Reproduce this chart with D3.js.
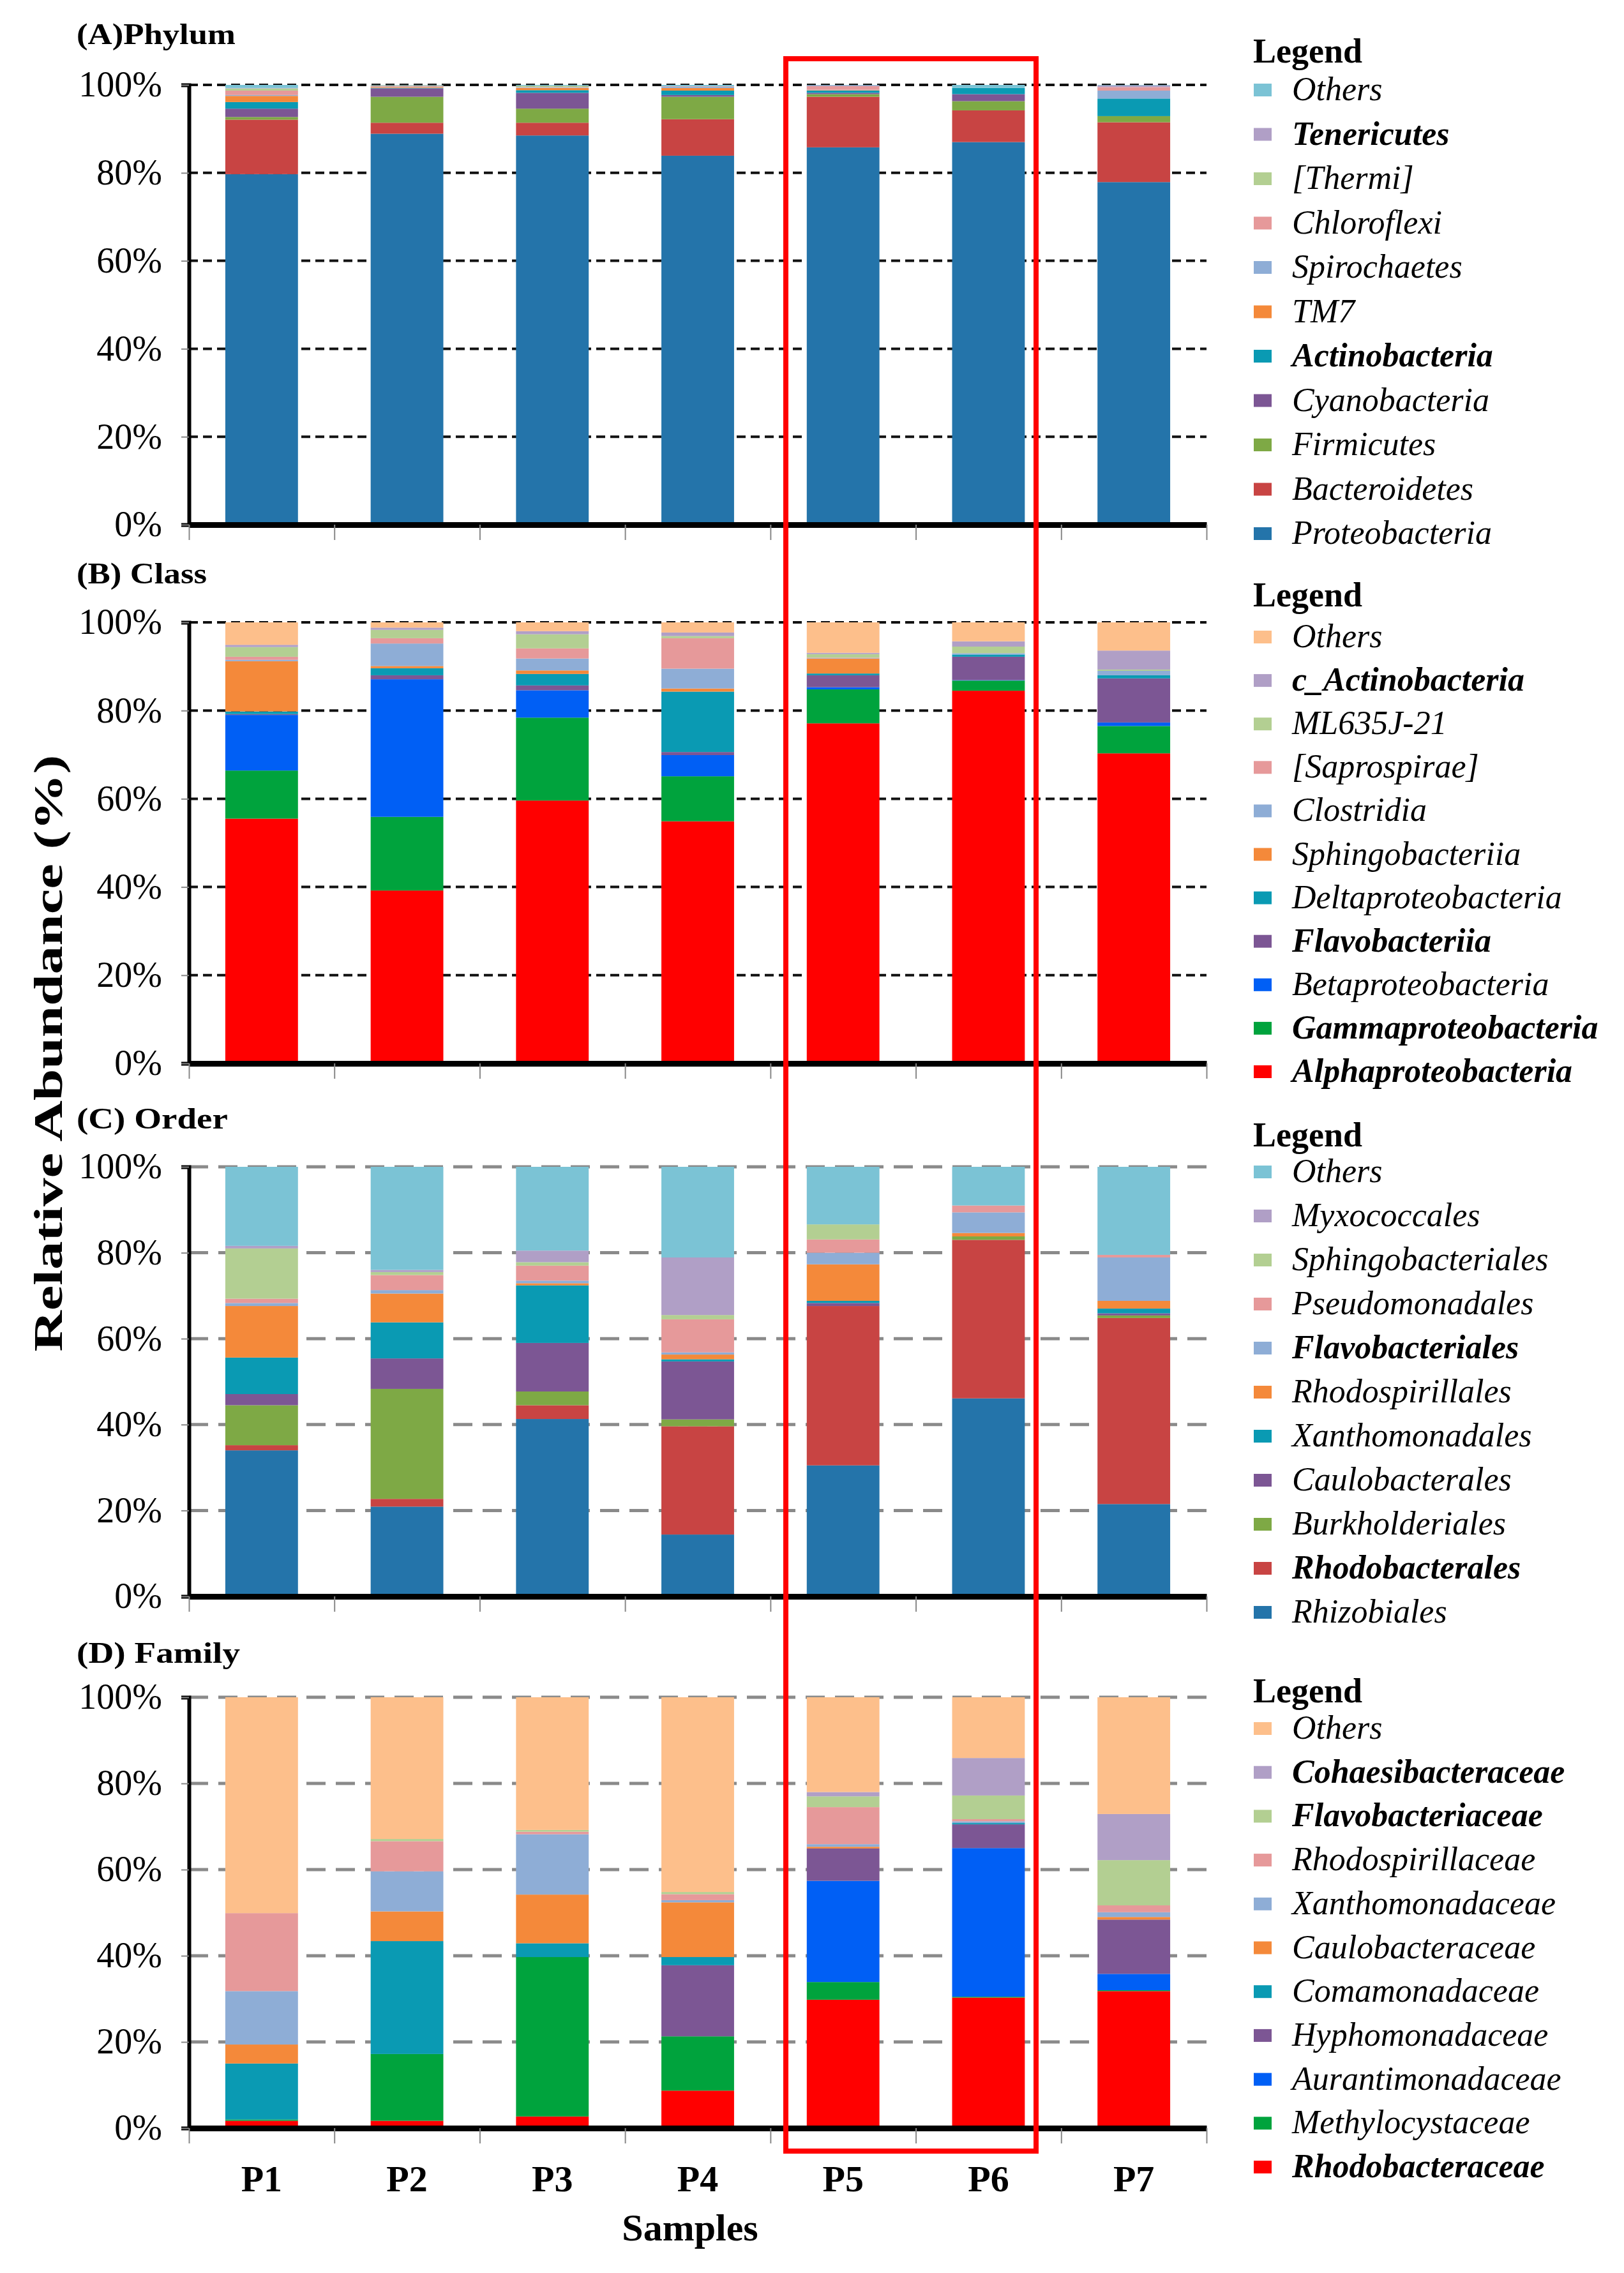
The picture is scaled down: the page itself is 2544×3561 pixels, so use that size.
<!DOCTYPE html>
<html>
<head>
<meta charset="utf-8">
<script src="https://cdn.jsdelivr.net/npm/d3@7"></script>
<style>
  body { margin: 0; background: #fff; }
  svg { display: block; }
  text { font-family: "Liberation Serif", "Times New Roman", serif; }
</style>
</head>
<body>
<svg id="fig"></svg>
<script>
// ---- data (stack order bottom -> top, one row per sample) ----
var samples = ["P1", "P2", "P3", "P4", "P5", "P6", "P7"];
var tickValues = [0, 20, 40, 60, 80, 100];

var phylumTaxa = ["Proteobacteria", "Bacteroidetes", "Firmicutes", "Cyanobacteria", "Actinobacteria",
    "TM7", "Spirochaetes", "Chloroflexi", "[Thermi]", "Tenericutes", "Others"];
var phylumColors = ["#2474aa", "#c84443", "#7ea945", "#7c5694", "#0a9ab3",
    "#f4893a", "#8eadd6", "#e6999a", "#b3cf92", "#b09fc6", "#7bc3d5"];
var phylumBold = ["Tenericutes", "Actinobacteria"];
var phylumValues = [
    [79.7, 12.4, 0.6, 1.9, 1.5, 1.4, 0.2, 1.0, 0.5, 0.1, 0.7],
    [88.9, 2.5, 5.9, 1.9, 0.1, 0.2, 0.1, 0.2, 0.1, 0.0, 0.1],
    [88.5, 2.9, 3.2, 3.6, 0.6, 0.5, 0.1, 0.1, 0.3, 0.0, 0.2],
    [83.9, 8.3, 5.1, 0.4, 1.0, 0.6, 0.3, 0.1, 0.0, 0.0, 0.3],
    [85.8, 11.5, 0.6, 0.3, 0.5, 0.1, 0.1, 0.8, 0.0, 0.2, 0.1],
    [87.0, 7.2, 2.1, 1.6, 1.4, 0.0, 0.0, 0.0, 0.0, 0.0, 0.7],
    [77.9, 13.6, 1.4, 0.0, 4.0, 0.0, 1.8, 0.8, 0.0, 0.4, 0.1]
];

var classTaxa = ["Alphaproteobacteria", "Gammaproteobacteria", "Betaproteobacteria", "Flavobacteriia",
    "Deltaproteobacteria", "Sphingobacteriia", "Clostridia", "[Saprospirae]", "ML635J-21", "c_Actinobacteria", "Others"];
var classColors = ["#ff0000", "#00a33d", "#005ff5", "#7c5694", "#0a9ab3",
    "#f4893a", "#8eadd6", "#e6999a", "#b3cf92", "#b09fc6", "#fdbf8b"];
var classBold = ["Alphaproteobacteria", "Gammaproteobacteria", "Flavobacteriia", "c_Actinobacteria"];
var classValues = [
    [55.5, 10.9, 12.6, 0.2, 0.6, 11.4, 0.3, 0.7, 2.2, 0.5, 5.1],
    [39.2, 16.7, 31.2, 0.9, 1.6, 0.5, 5.1, 1.2, 1.9, 0.5, 1.2],
    [59.6, 18.8, 6.2, 1.1, 2.6, 0.8, 2.7, 2.3, 3.2, 0.7, 2.0],
    [54.9, 10.2, 4.8, 0.7, 13.7, 0.7, 4.5, 6.9, 0.5, 0.8, 2.3],
    [77.1, 7.7, 0.5, 2.7, 0.4, 3.4, 0.1, 0.1, 0.8, 0.3, 6.9],
    [84.5, 2.3, 0.1, 5.3, 0.5, 0.0, 0.3, 0.0, 1.5, 1.2, 4.3],
    [70.3, 6.2, 0.8, 10.0, 0.7, 0.0, 1.0, 0.0, 0.3, 4.3, 6.4]
];

var orderTaxa = ["Rhizobiales", "Rhodobacterales", "Burkholderiales", "Caulobacterales", "Xanthomonadales",
    "Rhodospirillales", "Flavobacteriales", "Pseudomonadales", "Sphingobacteriales", "Myxococcales", "Others"];
var orderColors = ["#2474aa", "#c84443", "#7ea945", "#7c5694", "#0a9ab3",
    "#f4893a", "#8eadd6", "#e6999a", "#b3cf92", "#b09fc6", "#7bc3d5"];
var orderBold = ["Rhodobacterales", "Flavobacteriales"];
var orderValues = [
    [34.0, 1.2, 9.3, 2.6, 8.5, 12.0, 0.7, 1.0, 11.7, 0.6, 18.4],
    [20.9, 1.8, 25.6, 7.1, 8.4, 6.7, 0.8, 3.5, 0.7, 0.5, 24.0],
    [41.3, 3.2, 3.2, 11.3, 13.4, 0.5, 0.6, 3.5, 0.8, 2.7, 19.5],
    [14.4, 25.2, 1.6, 13.5, 0.5, 1.1, 0.5, 7.7, 1.0, 13.4, 21.1],
    [30.5, 37.1, 0.0, 0.7, 0.5, 8.5, 2.7, 3.1, 3.5, 0.0, 13.4],
    [46.1, 36.9, 0.8, 0.0, 0.0, 0.8, 4.8, 1.6, 0.0, 0.0, 9.0],
    [21.5, 43.3, 0.6, 0.5, 1.1, 1.8, 10.1, 0.6, 0.0, 0.0, 20.5]
];

var familyTaxa = ["Rhodobacteraceae", "Methylocystaceae", "Aurantimonadaceae", "Hyphomonadaceae", "Comamonadaceae",
    "Caulobacteraceae", "Xanthomonadaceae", "Rhodospirillaceae", "Flavobacteriaceae", "Cohaesibacteraceae", "Others"];
var familyColors = ["#ff0000", "#00a33d", "#005ff5", "#7c5694", "#0a9ab3",
    "#f4893a", "#8eadd6", "#e6999a", "#b3cf92", "#b09fc6", "#fdbf8b"];
var familyBold = ["Rhodobacteraceae", "Flavobacteriaceae", "Cohaesibacteraceae"];
var familyValues = [
    [1.7, 0.3, 0.0, 0.0, 13.0, 4.4, 12.4, 18.1, 0.0, 0.0, 50.1],
    [1.7, 15.5, 0.0, 0.0, 26.2, 6.9, 9.3, 7.0, 0.5, 0.0, 32.9],
    [2.7, 37.0, 0.0, 0.0, 3.2, 11.3, 14.0, 0.6, 0.4, 0.0, 30.8],
    [8.7, 12.6, 0.0, 16.5, 1.9, 12.7, 0.5, 1.4, 0.5, 0.0, 45.2],
    [29.8, 4.1, 23.5, 7.5, 0.0, 0.4, 0.6, 8.6, 2.5, 1.0, 22.0],
    [30.3, 0.2, 34.5, 5.5, 0.3, 0.0, 0.4, 0.5, 5.5, 8.7, 14.1],
    [31.8, 0.2, 3.8, 12.6, 0.0, 0.6, 1.1, 1.6, 10.5, 10.7, 27.1]
];

// ---- layout ----
var W = 2544, H = 3561;
var xLeft = 296, xRight = 1890;

var panels = [
    {title: "(A)Phylum", titleY: 69, titleLen: 249, taxa: phylumTaxa, colors: phylumColors, bold: phylumBold,
     values: phylumValues, y0: 822, y100: 133, grid: "black", legendTitleY: 98, legendY: 141, legendStep: 69.5},
    {title: "(B) Class", titleY: 914, titleLen: 204, taxa: classTaxa, colors: classColors, bold: classBold,
     values: classValues, y0: 1666, y100: 975, grid: "black", legendTitleY: 950, legendY: 998, legendStep: 68.1},
    {title: "(C) Order", titleY: 1768, titleLen: 237, taxa: orderTaxa, colors: orderColors, bold: orderBold,
     values: orderValues, y0: 2501, y100: 1828, grid: "gray", legendTitleY: 1796, legendY: 1836, legendStep: 69},
    {title: "(D) Family", titleY: 2605, titleLen: 256, taxa: familyTaxa, colors: familyColors, bold: familyBold,
     values: familyValues, y0: 3334, y100: 2659, grid: "gray", legendTitleY: 2667, legendY: 2708, legendStep: 68.7}
];

var svg = d3.select("#fig").attr("width", W).attr("height", H);
svg.append("rect").attr("width", W).attr("height", H).attr("fill", "#fff");

var x = d3.scaleBand().domain(samples).range([xLeft, xRight]).paddingInner(0.5).paddingOuter(0.25);
var xEdge = d3.scaleLinear().domain([0, samples.length]).range([xLeft, xRight]);

function drawPanel(p, idx) {
    var y = d3.scaleLinear().domain([0, 100]).range([p.y0, p.y100]);
    var g = svg.append("g").attr("class", "panel");

    // title
    g.append("text")
        .attr("x", 120).attr("y", p.titleY)
        .attr("font-size", 46).attr("font-weight", "bold")
        .attr("textLength", p.titleLen).attr("lengthAdjust", "spacingAndGlyphs")
        .text(p.title);

    // grid lines
    g.selectAll(".grid")
        .data(tickValues.slice(1))
        .enter()
        .append("line")
        .attr("class", "grid")
        .attr("x1", xLeft).attr("x2", xRight)
        .attr("y1", function (d) { return y(d); })
        .attr("y2", function (d) { return y(d); })
        .attr("stroke", p.grid == "black" ? "#111" : "#8a8a8a")
        .attr("stroke-width", p.grid == "black" ? 4 : 5)
        .attr("stroke-dasharray", p.grid == "black" ? "14,8" : "30,16");

    // stacked bars
    var rows = samples.map(function (s, i) {
        var o = {sample: s};
        p.taxa.forEach(function (t, j) { o[t] = p.values[i][j]; });
        return o;
    });
    var series = d3.stack().keys(p.taxa)(rows);
    g.selectAll(".layer")
        .data(series)
        .enter()
        .append("g")
        .attr("class", "layer")
        .attr("fill", function (d, i) { return p.colors[i]; })
        .selectAll("rect")
        .data(function (d) { return d; })
        .enter()
        .append("rect")
        .attr("x", function (d) { return x(d.data.sample); })
        .attr("y", function (d) { return y(d[1]); })
        .attr("width", x.bandwidth())
        .attr("height", function (d) { return Math.max(0, y(d[0]) - y(d[1])); });

    // y axis
    var yAxis = g.append("g")
        .attr("transform", "translate(" + xLeft + ",0)")
        .call(d3.axisLeft(y).tickValues(tickValues).tickFormat(function (d) { return d + "%"; }).tickSize(12).tickPadding(30));
    yAxis.select(".domain").attr("stroke", "#000").attr("stroke-width", 6);
    yAxis.selectAll(".tick line").attr("stroke", "#888").attr("stroke-width", 2);
    yAxis.selectAll(".tick text")
        .attr("font-family", "Liberation Serif, Times New Roman, serif")
        .attr("font-size", 56).attr("fill", "#000");

    // x axis: ticks at band edges
    var xAxis = g.append("g")
        .attr("transform", "translate(0," + p.y0 + ")")
        .call(d3.axisBottom(xEdge).ticks(samples.length).tickValues(d3.range(samples.length + 1))
            .tickFormat("").tickSize(24).tickSizeOuter(0));
    xAxis.select(".domain").attr("stroke", "#000").attr("stroke-width", 9);
    xAxis.selectAll(".tick line").attr("stroke", "#888").attr("stroke-width", 2);

    if (idx == 3) {
        var lab = g.append("g")
            .attr("transform", "translate(0," + p.y0 + ")")
            .call(d3.axisBottom(x).tickSize(0).tickPadding(58));
        lab.select(".domain").remove();
        lab.selectAll("text")
            .attr("font-family", "Liberation Serif, Times New Roman, serif")
            .attr("font-size", 58).attr("font-weight", "bold").attr("fill", "#000");
    }

    // legend
    var lg = g.append("g");
    lg.append("text")
        .attr("x", 1963).attr("y", p.legendTitleY)
        .attr("font-size", 54).attr("font-weight", "bold")
        .text("Legend");
    var items = p.taxa.map(function (t, i) { return {name: t, color: p.colors[i]}; }).reverse();
    var li = lg.selectAll(".item")
        .data(items)
        .enter()
        .append("g")
        .attr("class", "item")
        .attr("transform", function (d, i) { return "translate(0," + (p.legendY + i * p.legendStep) + ")"; });
    li.append("rect")
        .attr("x", 1964).attr("y", -10).attr("width", 28).attr("height", 20)
        .attr("fill", function (d) { return d.color; });
    li.append("text")
        .attr("x", 2024).attr("y", 16)
        .attr("font-size", 52).attr("font-style", "italic")
        .attr("font-weight", function (d) { return p.bold.indexOf(d.name) >= 0 ? "bold" : "normal"; })
        .text(function (d) { return d.name; });
}

panels.forEach(drawPanel);

// axis titles
svg.append("text")
    .attr("transform", "translate(97,1650) rotate(-90)")
    .attr("text-anchor", "middle")
    .attr("font-size", 64).attr("font-weight", "bold")
    .attr("textLength", 935).attr("lengthAdjust", "spacingAndGlyphs")
    .text("Relative Abundance (%)");
svg.append("text")
    .attr("x", (xLeft + xRight) / 2 - 12).attr("y", 3510)
    .attr("text-anchor", "middle")
    .attr("font-size", 60).attr("font-weight", "bold")
    .text("Samples");

// highlight box around P5 and P6
svg.append("rect")
    .attr("x", 1231).attr("y", 92)
    .attr("width", 1623 - 1231).attr("height", 3370 - 92)
    .attr("fill", "none").attr("stroke", "#ff0000").attr("stroke-width", 8);
</script>
</body>
</html>
